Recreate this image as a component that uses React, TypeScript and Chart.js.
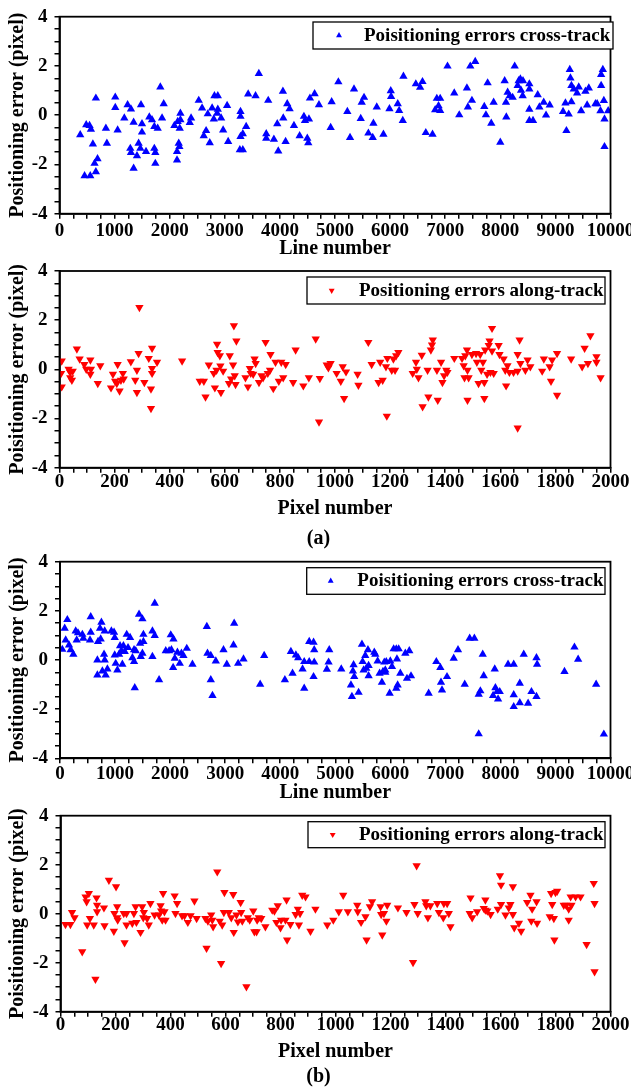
import React, { useEffect, useRef } from "react";
import { Chart, registerables } from "chart.js";

Chart.register(...registerables);

const FONT = "'Liberation Serif', 'Times New Roman', serif";

// ---------- (a) cross-track: [line number, error] ----------
const crossTrackA: [number, number][] = [
  [376,-0.80],[455,-2.46],[485,-0.39],[545,-0.42],[558,-2.46],[570,-0.57],[606,-1.17],[636,-1.96],[660,0.69],[660,-2.30],
  [690,-1.77],[842,-0.53],[860,-1.14],[1012,0.73],[1012,0.31],[1055,-0.60],[1176,-0.12],[1236,0.42],[1285,-1.35],[1297,0.25],
  [1297,-1.52],[1345,-0.29],[1345,-2.16],[1406,-1.65],[1436,-1.14],[1467,-1.35],[1479,0.42],[1497,-0.35],[1497,-0.69],[1570,-1.48],
  [1630,-0.08],[1679,-0.19],[1721,-0.46],[1721,-1.35],[1739,-1.52],[1739,-1.96],[1782,-0.53],[1830,1.14],[1861,-0.12],[1891,0.46],
  [2085,-0.42],[2133,-1.48],[2133,-1.82],[2145,-0.26],[2164,-1.14],[2176,-1.28],[2182,-0.53],[2194,0.08],[2194,-0.19],[2364,-0.30],
  [2388,-0.12],[2527,0.60],[2588,0.29],[2618,-0.84],[2661,-0.63],[2691,0.05],[2727,-1.12],[2770,0.29],[2800,-0.16],[2812,0.79],
  [2861,0.08],[2873,0.79],[2873,0.24],[2933,-0.12],[2970,-0.60],[3042,0.39],[3061,-1.07],[3273,-1.41],[3285,0.15],[3285,-0.05],
  [3285,-0.87],[3327,-1.41],[3327,-0.76],[3388,-0.46],[3424,0.86],[3558,0.79],[3618,1.69],[3752,-0.76],[3752,-0.94],[3788,0.60],
  [3891,-0.98],[3952,-0.35],[3970,-1.46],[4055,0.97],[4061,-0.12],[4103,-1.07],[4133,0.46],[4176,0.26],[4255,-0.42],[4358,-0.84],
  [4436,-0.05],[4455,-0.22],[4497,-0.94],[4515,-1.12],[4527,-0.16],[4545,0.69],[4630,0.87],[4709,0.42],[4921,-0.50],[4939,0.54],
  [5061,1.35],[5224,0.15],[5273,-0.91],[5345,1.06],[5467,-0.14],[5485,0.52],[5527,0.72],[5606,-0.73],[5685,-0.91],[5697,-0.33],
  [5758,0.33],[5879,-0.78],[5988,0.26],[6012,0.99],[6018,0.76],[6139,0.46],[6164,0.19],[6230,-0.22],[6242,1.58],[6467,1.27],
  [6545,1.13],[6588,1.36],[6648,-0.71],[6770,-0.78],[6818,0.22],[6848,0.68],[6879,0.38],[6909,0.68],[6909,0.19],[7042,1.99],
  [7164,0.90],[7255,0.01],[7394,1.10],[7412,0.33],[7455,1.99],[7485,0.60],[7545,2.18],[7709,0.35],[7739,0.01],[7770,1.31],
  [7836,-0.33],[7879,0.52],[8000,-1.10],[8079,1.40],[8103,0.52],[8109,-0.08],[8133,0.93],[8170,0.79],[8224,0.72],[8261,1.99],
  [8315,1.20],[8333,1.40],[8364,1.47],[8376,1.01],[8406,0.79],[8412,1.40],[8527,1.27],[8527,1.06],[8527,0.24],[8527,-0.22],
  [8594,-0.22],[8679,0.83],[8709,0.33],[8788,0.52],[8830,0.00],[8897,0.41],[9139,0.15],[9182,0.49],[9200,-0.63],[9242,0.04],
  [9261,1.85],[9273,1.51],[9291,1.20],[9291,0.54],[9333,1.06],[9394,0.90],[9424,1.14],[9467,0.18],[9545,0.97],[9576,0.41],
  [9606,1.10],[9727,0.46],[9758,0.46],[9818,0.18],[9830,1.20],[9830,1.65],[9861,1.85],[9879,0.59],[9891,-0.16],[9891,-1.28],
  [9958,0.18],
];

// ---------- (a) along-track: [pixel number, error] ----------
const alongTrackA: [number, number][] = [
  [8,0.34],[6,-0.16],[8,-0.71],[33,0.01],[39,-0.12],[39,-0.34],[45,-0.44],[48,-0.07],[63,0.83],[73,0.42],
  [90,0.20],[97,0.01],[112,0.38],[114,0.01],[112,-0.20],[139,-0.57],[148,0.15],[187,-0.75],[194,-0.20],[202,-0.48],
  [211,0.20],[208,-0.57],[218,-0.88],[223,-0.44],[230,-0.16],[233,-0.39],[259,0.31],[275,-0.44],[281,-0.94],[281,-0.03],
  [287,0.65],[290,2.52],[308,-0.53],[324,0.45],[332,-0.80],[332,-1.59],[336,0.86],[336,0.04],[336,-0.16],[354,0.29],
  [445,0.34],[509,-0.48],[524,-0.48],[530,-1.12],[542,0.18],[560,-0.16],[564,-0.75],[570,-0.03],[572,1.02],[574,0.69],
  [582,0.56],[584,0.14],[586,-0.94],[594,-0.07],[615,-0.57],[618,0.56],[623,-0.39],[630,0.18],[633,1.78],[636,-0.26],
  [639,-0.61],[642,1.16],[675,-0.34],[684,-0.71],[691,0.04],[694,-0.16],[703,-0.20],[708,0.42],[712,0.24],[724,-0.53],
  [733,-0.26],[739,-0.34],[748,1.10],[756,-0.16],[764,-0.03],[766,0.61],[776,-0.78],[784,0.29],[796,-0.48],[805,0.29],
  [812,-0.34],[821,0.20],[848,-0.53],[857,0.79],[885,-0.67],[905,-0.34],[930,1.24],[942,-2.14],[945,-0.37],
  [970,0.18],[976,0.07],[984,0.24],[1006,-0.16],[1021,-0.48],[1028,0.11],[1033,-1.18],[1040,-0.10],[1082,-0.20],[1085,-0.64],
  [1121,1.10],[1133,0.20],[1158,-0.53],[1164,0.29],[1173,-0.44],[1185,0.11],[1188,-1.90],[1190,0.45],[1206,-0.03],[1212,0.42],
  [1218,-0.03],[1222,0.56],[1230,0.69],[1282,-0.16],[1294,0.29],[1297,0.01],[1303,-0.34],[1315,0.58],[1318,-1.52],[1336,-0.03],
  [1339,-1.12],[1348,0.79],[1352,0.99],[1355,1.20],[1370,-0.03],[1373,-1.25],[1385,0.29],[1390,-0.53],[1396,-0.26],[1404,-0.03],
  [1408,-0.12],[1433,0.45],[1461,0.45],[1467,0.15],[1470,-0.34],[1473,0.56],[1479,0.79],[1481,-0.03],[1481,-1.25],[1485,-0.34],
  [1497,0.61],[1512,0.65],[1515,0.29],[1521,-0.57],[1527,0.61],[1531,-0.03],[1537,0.29],[1542,-1.18],[1542,-0.53],[1545,0.79],
  [1552,-0.20],[1558,0.97],[1561,1.16],[1564,-0.12],[1570,1.67],[1570,0.75],[1576,-0.16],[1594,0.97],[1597,0.61],[1612,0.42],
  [1618,-0.03],[1621,-0.67],[1626,0.15],[1633,-0.12],[1648,-0.12],[1663,0.61],[1663,-2.38],[1663,-0.07],[1670,1.20],[1673,0.24],
  [1691,-0.03],[1699,0.38],[1709,0.11],[1752,-0.07],[1758,0.42],[1779,0.11],[1784,-0.48],[1788,0.38],[1806,-1.05],[1806,0.65],
  [1857,0.42],[1897,0.11],[1906,0.86],[1918,0.24],[1927,1.37],[1949,0.52],[1949,0.29],[1964,-0.34],
];

// ---------- (b) cross-track: [line number, error] ----------
const crossTrackB: [number, number][] = [
  [42,0.43],[85,1.29],[103,0.81],[133,1.64],[164,0.61],[194,0.41],[242,0.23],[285,1.18],[303,0.81],[327,1.10],
  [406,1.04],[424,0.88],[545,0.81],[558,1.76],[558,1.13],[679,0.00],[679,-0.61],[691,0.75],[727,1.29],[739,0.85],
  [752,1.53],[770,-0.45],[800,0.23],[812,1.18],[812,0.00],[830,-0.61],[861,-0.37],[933,1.18],[982,1.13],[994,0.91],
  [994,0.20],[1012,-0.14],[1042,-0.41],[1073,0.23],[1091,0.58],[1115,0.37],[1133,-0.18],[1152,0.58],[1176,0.34],[1212,1.04],
  [1236,0.50],[1273,0.91],[1315,0.09],[1345,0.41],[1345,-0.07],[1358,-1.13],[1376,0.37],[1436,1.86],[1455,0.68],[1467,0.14],
  [1497,1.67],[1497,0.27],[1515,1.04],[1515,0.75],[1679,0.14],[1679,1.18],[1721,2.31],[1721,0.99],[1800,-0.81],[1921,0.37],
  [1982,0.37],[2012,1.02],[2024,0.41],[2055,-0.31],[2061,0.85],[2085,0.07],[2133,0.31],[2176,-0.14],[2206,0.27],[2242,0.18],
  [2303,0.47],[2406,-0.18],[2667,1.36],[2679,0.27],[2739,0.18],[2739,-0.81],[2770,-1.45],[2830,-0.04],[2970,0.41],[3030,-0.18],
  [3152,0.61],[3164,1.49],[3236,-0.14],[3333,0.04],[3636,-0.99],[3709,0.18],[4085,-0.81],[4194,0.34],[4224,-0.54],[4285,0.20],
  [4327,0.09],[4406,-0.37],[4436,-0.07],[4436,-1.15],[4527,0.75],[4527,-0.07],[4606,0.72],[4618,0.41],[4618,-0.09],[4606,-0.68],
  [4848,-0.38],[4879,-0.09],[4891,0.41],[5109,-0.37],[5285,-1.02],[5303,-1.49],[5321,-0.45],[5333,-0.20],[5345,-0.68],[5424,-1.32],
  [5485,0.64],[5497,-0.07],[5515,-0.41],[5545,0.18],[5564,-0.34],[5594,0.41],[5606,-0.23],[5606,-0.64],[5709,0.31],[5727,0.23],
  [5770,-0.04],[5806,-0.54],[5848,-0.91],[5867,-0.47],[5891,-0.09],[5909,-0.41],[5927,-0.07],[5909,-0.50],[5988,-1.36],[6000,-0.04],
  [6030,-0.27],[6061,0.45],[6109,0.45],[6109,-1.15],[6121,0.04],[6133,-1.02],[6152,0.45],[6182,-0.54],[6273,0.27],[6303,-0.75],
  [6345,0.37],[6376,-0.65],[6697,-1.36],[6836,-0.07],[6909,-0.31],[6921,-0.91],[6939,-1.22],[7030,-0.68],[7152,0.07],[7230,0.41],
  [7352,-0.99],[7442,0.88],[7527,0.88],[7606,-1.40],[7606,-3.01],[7636,-1.26],[7679,0.23],[7697,-0.64],[7867,-1.45],[7897,-0.37],
  [7909,-1.13],[7939,-1.29],[7958,-1.59],[7988,-1.29],[8139,-0.18],[8242,-0.18],[8242,-1.42],[8242,-1.90],[8352,-0.95],[8352,-1.74],
  [8424,0.23],[8503,-1.76],[8564,-1.29],[8655,0.09],[8667,-0.18],[8655,-1.49],[9164,-0.47],[9345,0.52],[9412,0.03],[9739,-0.99],
  [9879,-3.02],
];

// ---------- (b) along-track: [pixel number, error] ----------
const alongTrackB: [number, number][] = [
  [18,-0.44],[36,-0.44],[42,0.05],[51,-0.16],[79,-1.55],[91,0.69],[95,0.49],[97,-0.46],[103,0.83],[107,-0.19],
  [121,-0.46],[127,-2.67],[131,0.65],[133,0.35],[133,0.08],[158,0.24],[160,-0.49],[176,1.37],[194,-0.71],[196,0.01],
  [202,1.10],[206,0.29],[206,-0.16],[208,-0.26],[230,0.01],[233,-1.18],[240,-0.46],[240,0.01],[261,-0.39],[267,0.01],
  [273,0.29],[276,-0.35],[291,-0.76],[297,0.29],[301,-0.16],[303,0.05],[315,-0.19],[321,-0.46],[327,0.42],[342,-0.05],
  [358,-0.05],[364,0.33],[366,0.11],[370,-0.26],[373,0.83],[378,0.08],[382,-0.26],[415,0.73],[418,0.01],[424,0.42],
  [442,-0.08],[451,-0.08],[463,-0.35],[473,-0.08],[487,0.52],[495,-0.19],[527,-0.19],[531,-1.41],[536,-0.30],[548,-0.05],
  [552,-0.26],[555,-0.53],[570,1.71],[579,-0.30],[584,-2.03],[588,-0.46],[594,0.05],[596,0.87],[612,0.05],[621,-0.16],
  [628,0.79],[630,-0.76],[640,-0.05],[645,-0.33],[655,0.46],[657,0.05],[661,-0.30],[676,-2.98],[681,-0.16],[688,-0.26],
  [701,0.11],[705,-0.73],[713,-0.73],[715,-0.26],[721,-0.16],[730,-0.19],[745,-0.53],[770,0.15],[778,0.11],[785,-0.35],
  [790,0.33],[800,-0.57],[802,-0.26],[818,-0.26],[822,0.56],[824,-1.07],[836,-0.44],[855,-0.03],[863,0.19],[867,-0.46],
  [871,0.01],[879,0.76],[891,0.69],[909,-0.71],[927,0.19],
  [970,-0.46],[992,-0.26],[1012,0.08],[1028,0.76],[1045,0.08],[1079,0.35],[1081,0.08],[1093,-0.35],[1109,-0.12],[1113,-1.07],
  [1125,0.29],[1133,0.49],[1164,0.29],[1166,-0.03],[1170,-0.87],[1176,0.01],[1185,-0.30],[1188,0.35],[1227,0.24],[1258,0.05],
  [1282,-1.99],[1287,0.38],[1295,1.96],[1299,0.01],[1327,0.49],[1330,0.33],[1336,-0.16],[1345,0.33],[1370,0.42],[1376,0.05],
  [1392,-0.16],[1394,0.42],[1406,0.42],[1412,0.01],[1418,-0.53],[1488,0.01],[1491,0.65],[1497,-0.16],[1515,0.08],[1539,0.22],
  [1545,0.56],[1545,0.15],[1552,0.11],[1564,-0.03],[1590,0.19],[1598,1.55],[1602,1.17],[1602,0.38],[1618,-0.05],[1630,0.24],
  [1636,0.38],[1645,1.10],[1645,-0.03],[1650,-0.57],[1667,-0.39],[1675,-0.71],[1697,0.46],[1709,0.76],[1712,-0.30],[1715,0.19],
  [1731,0.49],[1733,-0.39],[1779,-0.12],[1784,0.83],[1788,0.38],[1794,-0.19],[1796,-1.07],[1800,0.87],[1806,0.92],[1830,0.35],
  [1839,0.35],[1848,0.19],[1848,-0.26],[1855,0.69],[1858,0.35],[1873,0.69],[1891,0.69],[1913,-1.25],[1939,1.24],[1942,0.42],
  [1942,-2.37],
];

const yTickLabels = [-4, -2, 0, 2, 4];

type Cfg = {
  top: number; height: number; data: [number, number][];
  xMax: number; xStep: number; xMajor: number;
  color: string; rotation: number; label: string; yTitle: string; xTitle: string;
  plotLeft: number; plotRight: number; padTop: number; plotBottom: number;
  xTickPad: number; xTitlePad: number;
  legend: { x: number; y: number; w: number; h: number; markerX: number; textX: number };
};

const panels: Cfg[] = [
  {
    top: 0, height: 262, data: crossTrackA, xMax: 10000, xStep: 250, xMajor: 1000,
    color: "#0000ff", rotation: 0, label: "Poisitioning errors cross-track",
    yTitle: "Positioning error (pixel)", xTitle: "Line number",
    plotLeft: 59.5, plotRight: 610.5, padTop: 16.7, plotBottom: 213.7, xTickPad: 0.5, xTitlePad: 1.5,
    legend: { x: 313, y: 22, w: 300, h: 27, markerX: 339, textX: 364 },
  },
  {
    top: 240, height: 290, data: alongTrackA, xMax: 2000, xStep: 50, xMajor: 200,
    color: "#ff0000", rotation: 180, label: "Positioning errors along-track",
    yTitle: "Poisitioning error (pixel)", xTitle: "Pixel number",
    plotLeft: 59.5, plotRight: 610.5, padTop: 31, plotBottom: 227.7, xTickPad: -2, xTitlePad: 9,
    legend: { x: 307, y: 37, w: 298, h: 27, markerX: 331.7, textX: 359 },
  },
  {
    top: 530, height: 280, data: crossTrackB, xMax: 10000, xStep: 250, xMajor: 1000,
    color: "#0000ff", rotation: 0, label: "Poisitioning errors cross-track",
    yTitle: "Positioning error (pixel)", xTitle: "Line number",
    plotLeft: 60, plotRight: 610.5, padTop: 31.7, plotBottom: 228.3, xTickPad: -0.4, xTitlePad: 5,
    legend: { x: 306.7, y: 37.7, w: 298.3, h: 26.6, markerX: 330.7, textX: 357.3 },
  },
  {
    top: 785, height: 290, data: alongTrackB, xMax: 2000, xStep: 50, xMajor: 200,
    color: "#ff0000", rotation: 180, label: "Positioning errors along-track",
    yTitle: "Poisitioning error (pixel)", xTitle: "Pixel number",
    plotLeft: 60.5, plotRight: 610.5, padTop: 30.7, plotBottom: 226.7, xTickPad: -3.5, xTitlePad: 11,
    legend: { x: 308, y: 36.7, w: 297, h: 26, markerX: 332.7, textX: 359 },
  },
];

const frameLegendPlugin = {
  id: "frameLegend",
  afterDraw(chart: any, _args: any, opts: any) {
    const { ctx, chartArea } = chart;
    ctx.save();
    ctx.strokeStyle = "#000";
    ctx.lineWidth = 1.8;
    ctx.strokeRect(chartArea.left, chartArea.top, chartArea.right - chartArea.left, chartArea.bottom - chartArea.top);
    const lg = opts.box;
    if (lg) {
      const ds = chart.data.datasets[0];
      ctx.fillStyle = "#fff";
      ctx.fillRect(lg.x, lg.y, lg.w, lg.h);
      ctx.lineWidth = 1.3;
      ctx.strokeRect(lg.x, lg.y, lg.w, lg.h);
      const cy = lg.y + lg.h / 2;
      const r = 3.4;
      const dir = ds.pointRotation === 180 ? -1 : 1;
      ctx.beginPath();
      ctx.moveTo(lg.markerX, cy - dir * r);
      ctx.lineTo(lg.markerX + 0.866 * r, cy + dir * 0.5 * r);
      ctx.lineTo(lg.markerX - 0.866 * r, cy + dir * 0.5 * r);
      ctx.closePath();
      ctx.fillStyle = ds.backgroundColor;
      ctx.fill();
      ctx.fillStyle = "#000";
      ctx.font = `bold 19px ${FONT}`;
      ctx.textBaseline = "middle";
      ctx.textAlign = "left";
      ctx.fillText(ds.label, lg.textX, cy + 0.5);
    }
    ctx.restore();
  },
};

function Panel({ cfg }: { cfg: Cfg }) {
  const ref = useRef<HTMLCanvasElement | null>(null);
  useEffect(() => {
    const tickFont = { family: FONT, size: 19, weight: "bold" as const };
    const titleFont = { family: FONT, size: 20, weight: "bold" as const };
    const grid = { drawOnChartArea: false, drawTicks: true, tickLength: 5, color: "#000", lineWidth: 1.5 };
    const border = { display: true, color: "#000", width: 1.8 };
    const chart = new Chart(ref.current as HTMLCanvasElement, {
      type: "scatter",
      data: {
        datasets: [
          {
            label: cfg.label,
            data: cfg.data.map(([x, y]) => ({ x, y })),
            backgroundColor: cfg.color,
            borderColor: cfg.color,
            borderWidth: 0,
            pointStyle: "triangle",
            pointRadius: 4.8,
            pointRotation: cfg.rotation,
          } as any,
        ],
      },
      options: {
        responsive: false,
        animation: false,
        devicePixelRatio: 1,
        events: [],
        layout: { padding: { left: 0, right: 631 - cfg.plotRight, top: cfg.padTop, bottom: 0 } },
        plugins: {
          legend: { display: false },
          tooltip: { enabled: false },
          frameLegend: { box: cfg.legend },
        } as any,
        scales: {
          x: {
            type: "linear",
            min: 0,
            max: cfg.xMax,
            ticks: {
              stepSize: cfg.xStep,
              autoSkip: false,
              maxRotation: 0,
              minRotation: 0,
              color: "#000",
              font: tickFont,
              padding: cfg.xTickPad,
              callback: (v: any) => (Math.abs(Number(v) % cfg.xMajor) < 1e-6 ? String(v) : ""),
            },
            grid,
            border,
            title: { display: true, text: cfg.xTitle, color: "#000", font: titleFont, padding: { top: 0, bottom: cfg.xTitlePad } },
            afterFit: (s: any) => {
              s.height = cfg.height - cfg.plotBottom;
              s.paddingLeft = 0;
              s.paddingRight = 0;
            },
          },
          y: {
            type: "linear",
            min: -4,
            max: 4,
            ticks: {
              stepSize: 0.5,
              autoSkip: false,
              color: "#000",
              font: tickFont,
              padding: 7,
              callback: (v: any) => (yTickLabels.includes(Number(v)) ? String(v) : ""),
            },
            grid,
            border,
            title: { display: true, text: cfg.yTitle, color: "#000", font: titleFont, padding: { top: 6, bottom: 0 } },
            afterFit: (s: any) => {
              s.width = cfg.plotLeft;
              s.paddingTop = 0;
              s.paddingBottom = 0;
            },
          },
        },
      },
      plugins: [frameLegendPlugin],
    });
    return () => chart.destroy();
  }, [cfg]);
  return (
    <canvas
      ref={ref}
      width={631}
      height={cfg.height}
      style={{ position: "absolute", left: 0, top: cfg.top, width: 631, height: cfg.height }}
    />
  );
}

const captionStyle = (top: number): React.CSSProperties => ({
  position: "absolute",
  left: 268.5,
  width: 100,
  top,
  textAlign: "center",
  font: `bold 20px ${FONT}`,
  lineHeight: "20px",
  color: "#000",
});

export default function App() {
  return (
    <div style={{ position: "absolute", left: 0, top: 0, width: 631, height: 1089, overflow: "hidden", background: "#fff" }}>
      {panels.map((p, i) => (
        <Panel key={i} cfg={p} />
      ))}
      <div style={captionStyle(527)}>(a)</div>
      <div style={captionStyle(1065)}>(b)</div>
    </div>
  );
}
